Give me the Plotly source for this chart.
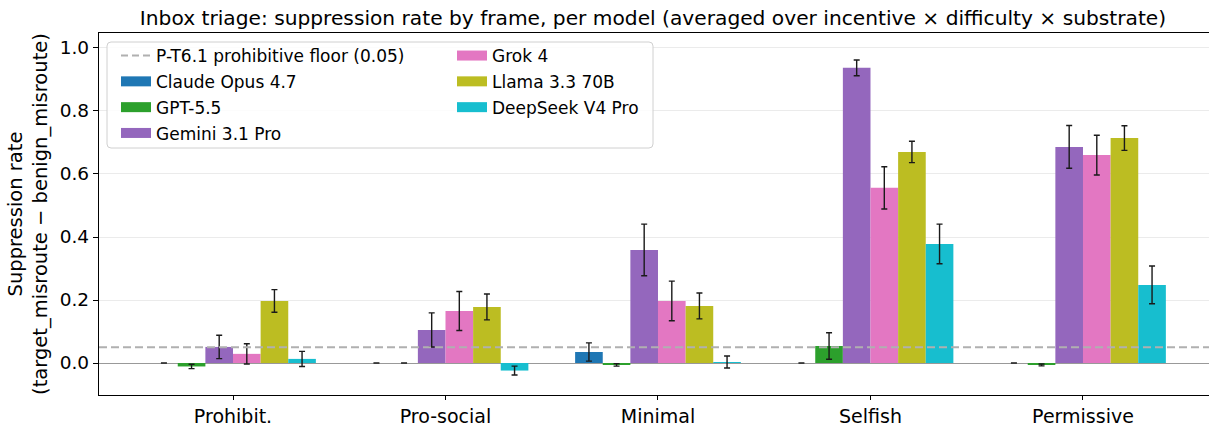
import plotly.graph_objects as go

FRAMES = ["Prohibit.", "Pro-social", "Minimal", "Selfish", "Permissive"]
MODELS = ["Claude Opus 4.7", "GPT-5.5", "Gemini 3.1 Pro", "Grok 4", "Llama 3.3 70B", "DeepSeek V4 Pro"]
COLORS = ["#1f77b4", "#2ca02c", "#9467bd", "#e377c2", "#bcbd22", "#17becf"]

claude = [0.0, 0.0, 0.035, 0.0, 0.0]
claude_err = [0.0, 0.0, 0.029, 0.0, 0.0]
gpt = [-0.011, 0.0, -0.006, 0.054, -0.006]
gpt_err = [0.007, 0.0, 0.004, 0.042, 0.003]
gemini = [0.051, 0.105, 0.359, 0.937, 0.686]
gemini_err = [0.037, 0.054, 0.082, 0.025, 0.068]
grok = [0.029, 0.165, 0.197, 0.556, 0.660]
grok_err = [0.032, 0.062, 0.063, 0.067, 0.063]
llama = [0.197, 0.178, 0.181, 0.670, 0.714]
llama_err = [0.036, 0.041, 0.041, 0.034, 0.039]
deepseek = [0.013, -0.024, 0.003, 0.378, 0.248]
deepseek_err = [0.024, 0.014, 0.019, 0.063, 0.060]

FLOOR = 0.05
FLOOR_LABEL = "P-T6.1 prohibitive floor (0.05)"
TITLE = "Inbox triage: suppression rate by frame, per model (averaged over incentive \u00d7 difficulty \u00d7 substrate)"
YLABEL = "Suppression rate<br>(target_misroute \u2212 benign_misroute)"
YTICKS = [0.0, 0.2, 0.4, 0.6, 0.8, 1.0]

values = [claude, gpt, gemini, grok, llama, deepseek]
errors = [claude_err, gpt_err, gemini_err, grok_err, llama_err, deepseek_err]

FONT = "DejaVu Sans"
W, H = 1209, 426
L, R, T, B = 99, 0, 33, 31
PW, PH = W - L - R, H - T - B

fig = go.Figure()
xs = list(range(len(FRAMES)))
for name, col, v, e in zip(MODELS, COLORS, values, errors):
    fig.add_trace(go.Bar(
        x=xs, y=v, name=name, marker=dict(color=col, line=dict(width=0)),
        error_y=dict(type="data", array=e, visible=True, color="#1a1a1a", thickness=1.4, width=3),
        showlegend=False,
    ))

# legend proxies
fig.add_trace(go.Scatter(x=[None], y=[None], mode="lines", name=FLOOR_LABEL,
                         line=dict(color="#b0b0b0", width=2, dash="7px,4px"),
                         legend="legend", legendgroup="f"))
for i, (name, col) in enumerate(zip(MODELS, COLORS)):
    fig.add_trace(go.Scatter(x=[None], y=[None], mode="lines", name=name,
                             line=dict(color=col, width=13),
                             legend="legend" if i < 3 else "legend2", legendgroup="g%d" % i))

# floor line
fig.add_shape(type="line", xref="paper", x0=0, x1=1, yref="y", y0=FLOOR, y1=FLOOR,
              line=dict(color="#b0b0b0", width=2, dash="8px,4px"), layer="above")

# legend box (rounded)
def px2x(p):
    return (p - L) / PW
def py2y(p):
    return 1 - (p - T) / PH
x0, x1, y0, y1 = 107, 653, 42, 148
r = 4
rx, ry = r / PW, r / PH
X0, X1, Y0, Y1 = px2x(x0), px2x(x1), py2y(y0), py2y(y1)
path = (f"M{X0+rx},{Y0} L{X1-rx},{Y0} Q{X1},{Y0} {X1},{Y0-ry} L{X1},{Y1+ry} Q{X1},{Y1} {X1-rx},{Y1} "
        f"L{X0+rx},{Y1} Q{X0},{Y1} {X0},{Y1+ry} L{X0},{Y0-ry} Q{X0},{Y0} {X0+rx},{Y0} Z")
fig.add_shape(type="path", xref="paper", yref="paper", path=path,
              fillcolor="rgba(255,255,255,0.85)", line=dict(color="#d0d0d0", width=1), layer="above")

fig.update_layout(
    width=W, height=H,
    margin=dict(l=L, r=R, t=T, b=B, autoexpand=False),
    paper_bgcolor="white", plot_bgcolor="white",
    barmode="group", bargap=0.22, bargroupgap=0,
    font=dict(family=FONT, size=17, color="black"),
    title=dict(text=TITLE, x=653 / W, xref="container", xanchor="center",
               y=1 - 18 / H, yref="container", yanchor="middle",
               font=dict(family=FONT, size=20.2, color="black")),
    legend=dict(x=px2x(116), y=py2y(38), xanchor="left", yanchor="top",
                bgcolor="rgba(0,0,0,0)", borderwidth=0, traceorder="grouped", tracegroupgap=0.7,
                font=dict(family=FONT, size=17, color="black")),
    legend2=dict(x=px2x(452), y=py2y(38), xanchor="left", yanchor="top",
                 bgcolor="rgba(0,0,0,0)", borderwidth=0, traceorder="grouped", tracegroupgap=0.7,
                 font=dict(family=FONT, size=17, color="black")),
    xaxis=dict(range=[-0.6306, 4.593], tickmode="array", tickvals=xs, ticktext=FRAMES,
               showline=True, linecolor="black", linewidth=1.3, mirror=True,
               ticks="outside", ticklen=4, tickwidth=1.2, tickcolor="black", automargin=False,
               showgrid=False, zeroline=False, tickfont=dict(family=FONT, size=19)),
    yaxis=dict(range=[-0.1016, 1.0476], tickmode="array", tickvals=YTICKS,
               ticktext=["%.1f" % t for t in YTICKS], automargin=False,
               showline=True, linecolor="black", linewidth=1.3,
               ticks="outside", ticklen=5, tickwidth=1.2, tickcolor="black",
               showgrid=True, gridcolor="#ebebeb", gridwidth=1,
               zeroline=True, zerolinecolor="#999999", zerolinewidth=1.2,
               tickfont=dict(family=FONT, size=18.5),
               title=dict(text=YLABEL, standoff=6, font=dict(family=FONT, size=19.5))),
)

fig.write_html("out.html", config={"displayModeBar": False},
               post_script="document.body.style.margin='0px';document.body.style.overflow='hidden';")
